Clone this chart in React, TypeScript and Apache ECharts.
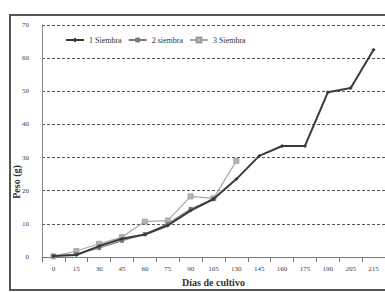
import React, { useEffect, useRef } from "react";
import * as echarts from "echarts";

const categories = ["0", "15", "30", "45", "60", "75", "90", "105", "130", "145", "160", "175", "190", "205", "215"];
const siembra1 = [0.3, 0.6, 3.3, 5.5, 6.8, 9.5, 14, 17.5, 23.5, 30.5, 33.5, 33.5, 49.7, 51, 62.5];
const siembra2 = [0.2, 0.9, 2.7, 4.9, 6.9, 10.0, 14.5, 17.5];
const siembra3 = [0.2, 1.8, 4.0, 6.0, 10.7, 11.0, 18.3, 17.7, 29];
const yTicks = { min: 0, max: 70, interval: 10 };

const FONT = "'Liberation Serif', 'DejaVu Serif', serif";

export default function App() {
  const ref = useRef<HTMLDivElement>(null);
  useEffect(() => {
    const chart = echarts.init(ref.current!, null, { renderer: "svg" });
    chart.setOption({
      animation: false,
      backgroundColor: "#ffffff",
      textStyle: { fontFamily: FONT },
      legend: {
        top: 31,
        left: 60,
        itemWidth: 18,
        itemHeight: 6,
        itemGap: 6,
        textStyle: { fontFamily: FONT, fontSize: 8, color: "#333" },
        data: ["1 Siembra", "2 siembra", "3 Siembra"],
      },
      grid: { left: 42, top: 25, width: 345, height: 234, containLabel: false },
      xAxis: {
        type: "category",
        data: categories,
        boundaryGap: true,
        name: "Días de cultivo",
        nameLocation: "middle",
        nameGap: 20,
        nameTextStyle: { fontFamily: FONT, fontSize: 10, fontWeight: "bold", color: "#333" },
        axisLine: { lineStyle: { color: "#777", width: 1 } },
        axisTick: { show: true, alignWithLabel: false, lineStyle: { color: "#777" } },
        axisLabel: { fontFamily: FONT, fontSize: 7, color: "#444", margin: 8, interval: 0 },
      },
      yAxis: {
        type: "value",
        min: yTicks.min,
        max: yTicks.max,
        interval: yTicks.interval,
        axisLine: { show: true, lineStyle: { color: "#888", width: 1 } },
        axisTick: { show: false },
        axisLabel: { fontFamily: FONT, fontSize: 7, color: "#444", margin: 13 },
        splitLine: { lineStyle: { color: "#555", type: [3, 2], width: 1 } },
      },
      graphic: [
        {
          type: "rect",
          shape: { x: 10, y: 15, width: 400, height: 275 },
          style: { fill: "none", stroke: "#555", lineWidth: 2 },
          silent: true,
        },
        {
          type: "text",
          x: 16,
          y: 182,
          rotation: Math.PI / 2,
          style: {
            text: "Peso (g)",
            font: `bold 10px ${FONT}`,
            fill: "#333",
            align: "center",
            verticalAlign: "middle",
          },
        },
      ],
      series: [
        {
          name: "1 Siembra",
          type: "line",
          data: siembra1,
          z: 3,
          symbol: "diamond",
          symbolSize: 4,
          lineStyle: { color: "#3a3a3a", width: 2 },
          itemStyle: { color: "#3a3a3a" },
        },
        {
          name: "2 siembra",
          type: "line",
          data: siembra2,
          z: 2,
          symbol: "rect",
          symbolSize: 4,
          lineStyle: { color: "#7a7a7a", width: 1.2 },
          itemStyle: { color: "#7a7a7a" },
        },
        {
          name: "3 Siembra",
          type: "line",
          data: siembra3,
          z: 1,
          symbol: "rect",
          symbolSize: 5,
          lineStyle: { color: "#a8a8a8", width: 1.2 },
          itemStyle: { color: "#b5b5b5", borderColor: "#999", borderWidth: 0.8 },
        },
      ],
    });
    return () => chart.dispose();
  }, []);
  return (
    <div
      ref={ref}
      style={{ position: "fixed", left: 0, top: 0, width: 385, height: 292 }}
    />
  );
}
